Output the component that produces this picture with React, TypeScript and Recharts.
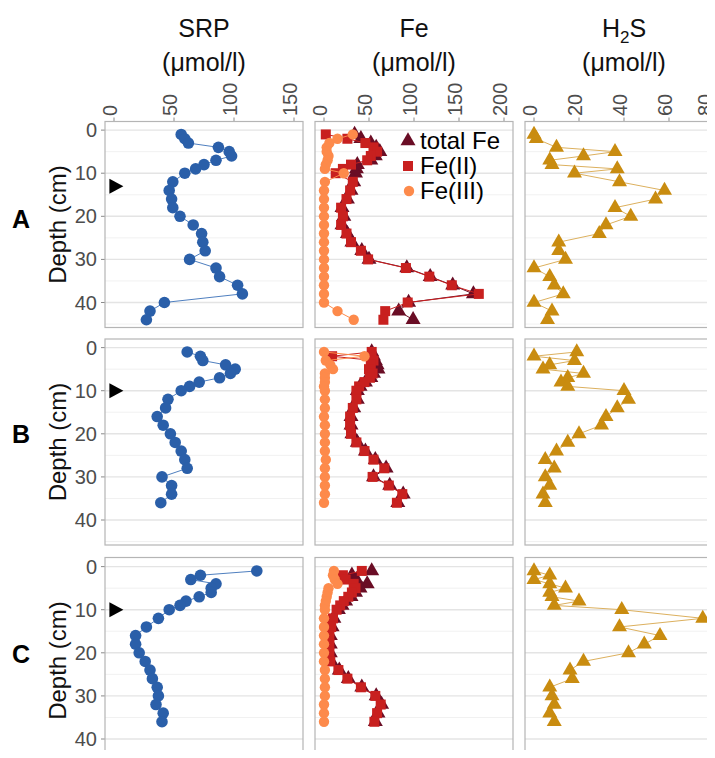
import React from 'react';
import { ScatterChart, Scatter, XAxis, YAxis, CartesianGrid, ReferenceDot } from 'recharts';

const FONT = '"Liberation Sans", Arial, Helvetica, sans-serif';

// sampling depths (cm)
const depthsA = [1, 2, 3, 4, 5, 6, 7, 8, 9, 10, 12, 14, 16, 18, 20, 22, 24, 26, 28, 30, 32, 34, 36, 38, 40, 42, 44];
const depthsBC = [1, 2, 3, 4, 5, 6, 7, 8, 9, 10, 12, 14, 16, 18, 20, 22, 24, 26, 28, 30, 32, 34, 36];
const h2sDepthsA = [1, 2, 4, 5, 6, 7, 8, 9, 10, 12, 14, 16, 18, 20, 22, 24, 26, 28, 30, 32, 34, 36, 38, 40, 42, 44];

// SRP (µmol/l)
const srpA = [56, 59, 62, 87, 96, 98, 85, 75, 68, 59, 49, 46, 48, 49, 55, 66, 73, 74, 76, 63, 85, 88, 103, 107, 42, 30, 27];
const srpB = [61, 72, 74, 93, 101, 97, 88, 71, 63, 56, 45, 43, 36, 41, 47, 51, 56, 59, 61, 40, 48, 48, 39];
const srpC = [119, 72, 64, 85, 81, 81, 71, 60, 55, 46, 37, 27, 18, 18, 21, 26, 30, 32, 36, 37, 35, 41, 40];

// Fe (µmol/l)
const feTotA = [34, 41, 52, 58, 62, 57, 52, 37, 36, 35, 33, 30, 26, 20, 22, 20, 26, 31, 42, 50, 92, 118, 143, 166, 94, 83, 99];
const fe2A = [2, 26, 46, 55, 59, 52, 48, 30, 21, 13, 32, 29, 25, 19, 21, 19, 25, 30, 41, 49, 91, 117, 142, 172, 93, 68, 66];
const fe3A = [32, 15, 6, 3, 3, 5, 4, 2, 1, 22, 1, 0, 0, 0, 0, 0, 0, 0, 0, 0, 0, 0, 0, 0, 0, 15, 33];
const feTotB = [53, 55, 57, 59, 60, 55, 52, 46, 40, 37, 37, 33, 30, 30, 31, 37, 46, 57, 69, 55, 73, 88, 82];
const fe2B = [53, 9, 55, 52, 50, 54, 51, 45, 39, 36, 36, 32, 29, 29, 30, 36, 45, 55, 67, 54, 72, 87, 81];
const fe3B = [0, 45, 2, 7, 10, 1, 1, 1, 0, 1, 1, 1, 0, 1, 1, 1, 1, 2, 1, 1, 1, 1, 0];
const feTotC = [53, 31, 36, 48, 40, 35, 30, 24, 20, 16, 11, 9, 7, 7, 7, 8, 17, 27, 42, 58, 64, 60, 57];
const fe2C = [42, 21, 24, 33, 35, 31, 27, 22, 18, 14, 10, 8, 6, 6, 6, 7, 16, 26, 41, 57, 63, 59, 56];
const fe3C = [11, 10, 12, 15, 5, 4, 3, 2, 1, 1, 0, 0, 0, 0, 0, 0, 1, 1, 1, 1, 0, 0, 0];

// H2S (µmol/l)
const h2sA = [0, 1, 10, 36, 22, 7, 8, 37, 18, 38, 58, 54, 36, 43, 32, 29, 11, 11, 14, 0, 7, 9, 13, 0, 8, 6];
const h2sB = [19, 0, 18, 7, 4, 22, 15, 12, 15, 40, 42, 37, 32, 30, 20, 15, 10, 5, 9, 5, 7, 4, 5];
const h2sC = [0, 7, 0, 7, 14, 7, 8, 20, 9, 39, 75, 38, 56, 49, 42, 22, 16, 17, 7, 8, 9, 7, 9];

// marked depth per core (cm)
const markDepths = [13, 10, 10];
const rowLabels = ['A', 'B', 'C'];

const srpTicks = [0, 50, 100, 150];
const feTicks = [0, 50, 100, 150, 200];
const h2sTicks = [0, 20, 40, 60, 80];
const depthTicks = [0, 10, 20, 30, 40];
const minorDepths = [5, 15, 25, 35, 45];

const COL_X = [105, 315, 525];
const ROW_Y = [121.5, 339, 557.5];
const PW = 198;
const PH = 206;
const DEPTH_DOMAIN = [-2, 45.8];

const BLUE = '#2a5fa9';
const FE_TOT = '#6a0d25';
const FE2 = '#c8201f';
const FE3 = '#fd8a4b';
const GOLD = '#c98c10';

const pts = (depths: number[], vals: number[]) => depths.map((d, i) => ({ d, v: vals[i] }));

const circle = (r: number, fill: string) => (p: any) => <circle cx={p.cx} cy={p.cy} r={r} fill={fill} />;
const square = (s: number, fill: string) => (p: any) => (
  <rect x={p.cx - s / 2} y={p.cy - s / 2} width={s} height={s} fill={fill} />
);
const triangle = (w: number, h: number, fill: string) => (p: any) => (
  <polygon
    points={`${p.cx},${p.cy - (2 * h) / 3} ${p.cx + w / 2},${p.cy + h / 3} ${p.cx - w / 2},${p.cy + h / 3}`}
    fill={fill}
  />
);

// rotated labels above the top panels; the last H2S label sits at the page edge
function TopTick(props: any) {
  const { x, payload, edge } = props;
  const bx = Math.min(x + 3, edge - 3);
  return (
    <text transform={`translate(${bx},116) rotate(-90)`} fontSize={20} fill="#4d4d4d" fontFamily={FONT}>
      {payload.value}
    </text>
  );
}

function LeftTick(props: any) {
  const { y, payload } = props;
  return (
    <text x={97} y={y} dy="0.35em" textAnchor="end" fontSize={20} fill="#4d4d4d" fontFamily={FONT}>
      {payload.value}
    </text>
  );
}

interface SeriesDef {
  name: string;
  data: { d: number; v: number }[];
  shape: (p: any) => React.ReactElement;
  line: string;
}

interface PanelProps {
  col: number;
  row: number;
  domain: number[];
  ticks: number[];
  series: SeriesDef[];
}

function Panel({ col, row, domain, ticks, series }: PanelProps) {
  const first = row === 0;
  const leftCol = col === 0;
  const mTop = first ? ROW_Y[0] : 0;
  const mLeft = leftCol ? COL_X[0] : 0;
  const chartLeft = leftCol ? 0 : COL_X[col];
  return (
    <div style={{ position: 'absolute', left: chartLeft, top: first ? 0 : ROW_Y[row] }}>
      <ScatterChart width={mLeft + PW} height={mTop + PH} margin={{ top: 0, right: 0, bottom: 0, left: 0 }}>
        <CartesianGrid vertical={false} horizontalValues={depthTicks} stroke="#e4e4e4" strokeWidth={1.4} />
        <CartesianGrid vertical={false} horizontalValues={minorDepths} stroke="#efefef" strokeWidth={0.9} />
        <XAxis
          type="number"
          dataKey="v"
          orientation="top"
          domain={domain}
          ticks={ticks}
          interval={0}
          allowDataOverflow
          hide={!first}
          height={mTop}
          axisLine={false}
          tickSize={4}
          tickLine={{ stroke: '#8a8a8a' }}
          tick={<TopTick edge={715 - chartLeft} />}
        />
        <YAxis
          type="number"
          dataKey="d"
          reversed
          domain={DEPTH_DOMAIN}
          ticks={depthTicks}
          interval={0}
          allowDataOverflow
          hide={!leftCol}
          width={mLeft}
          axisLine={false}
          tickSize={4}
          tickLine={{ stroke: '#8a8a8a' }}
          tick={<LeftTick />}
        />
        {series.map((s) => (
          <Scatter
            key={s.name}
            name={s.name}
            data={s.data}
            shape={s.shape}
            line={{ stroke: s.line, strokeWidth: 1 }}
            lineType="joint"
            isAnimationActive={false}
          />
        ))}
        {leftCol && (
          <ReferenceDot
            x={2}
            y={markDepths[row]}
            ifOverflow="visible"
            shape={(p: any) => (
              <polygon points={`${p.cx + 7},${p.cy} ${p.cx - 7},${p.cy - 7.5} ${p.cx - 7},${p.cy + 7.5}`} fill="#000" />
            )}
          />
        )}
      </ScatterChart>
    </div>
  );
}

export default function App() {
  const srp = [srpA, srpB, srpC];
  const feTot = [feTotA, feTotB, feTotC];
  const fe2 = [fe2A, fe2B, fe2C];
  const fe3 = [fe3A, fe3B, fe3C];
  const h2s = [h2sA, h2sB, h2sC];
  const depths = [depthsA, depthsBC, depthsBC];
  const h2sDepths = [h2sDepthsA, depthsBC, depthsBC];

  return (
    <div
      style={{
        position: 'relative',
        width: 715,
        height: 758,
        margin: -8,
        overflow: 'hidden',
        background: '#fff',
        fontFamily: FONT,
      }}
    >
      <style>{'.recharts-surface, .recharts-wrapper { overflow: visible !important; }'}</style>
      {[0, 1, 2].map((r) => (
        <React.Fragment key={r}>
          <Panel
            col={0}
            row={r}
            domain={[-7.5, 157.5]}
            ticks={srpTicks}
            series={[{ name: 'SRP', data: pts(depths[r], srp[r]), shape: circle(5.8, BLUE), line: '#4f7fbf' }]}
          />
          <Panel
            col={1}
            row={r}
            domain={[-10, 210]}
            ticks={feTicks}
            series={[
              { name: 'total Fe', data: pts(depths[r], feTot[r]), shape: triangle(15, 13, FE_TOT), line: FE_TOT },
              { name: 'Fe(II)', data: pts(depths[r], fe2[r]), shape: square(10, FE2), line: FE2 },
              { name: 'Fe(III)', data: pts(depths[r], fe3[r]), shape: circle(5.2, FE3), line: FE3 },
            ]}
          />
          <Panel
            col={2}
            row={r}
            domain={[-4, 84]}
            ticks={h2sTicks}
            series={[{ name: 'H2S', data: pts(h2sDepths[r], h2s[r]), shape: triangle(15, 13, GOLD), line: '#dcb05e' }]}
          />
        </React.Fragment>
      ))}

      <svg
        width={715}
        height={758}
        style={{ position: 'absolute', left: 0, top: 0, pointerEvents: 'none' }}
        fontFamily={FONT}
      >
        {ROW_Y.map((y) =>
          COL_X.map((x) => (
            <rect key={`${x}-${y}`} x={x} y={y} width={PW} height={PH} fill="none" stroke="#b5b5b5" strokeWidth={1.2} />
          ))
        )}

        <g fontSize={25} fill="#111" textAnchor="middle">
          <text x={204} y={37}>SRP</text>
          <text x={204} y={71}>(μmol/l)</text>
          <text x={414} y={37}>Fe</text>
          <text x={414} y={71}>(μmol/l)</text>
          <text x={624} y={37}>
            H<tspan fontSize={17} dy={6}>2</tspan>
            <tspan dy={-6}>S</tspan>
          </text>
          <text x={624} y={71}>(μmol/l)</text>
        </g>

        {ROW_Y.map((y, i) => (
          <text
            key={`depth-${i}`}
            transform={`translate(66,${y + PH / 2}) rotate(-90)`}
            textAnchor="middle"
            fontSize={24}
            fill="#111"
          >
            Depth (cm)
          </text>
        ))}

        {rowLabels.map((lab, i) => (
          <text key={lab} x={12} y={[228, 443, 663][i]} fontSize={25} fontWeight="bold" fill="#000">
            {lab}
          </text>
        ))}

        <g fontSize={24} fill="#000">
          <polygon points="408,132.3 415.5,145.3 400.5,145.3" fill={FE_TOT} />
          <text x={420} y={149}>total Fe</text>
          <rect x={403} y={161} width={10} height={10} fill={FE2} />
          <text x={420} y={174}>Fe(II)</text>
          <circle cx={409} cy={191} r={5.2} fill={FE3} />
          <text x={420} y={199}>Fe(III)</text>
        </g>
      </svg>
    </div>
  );
}
